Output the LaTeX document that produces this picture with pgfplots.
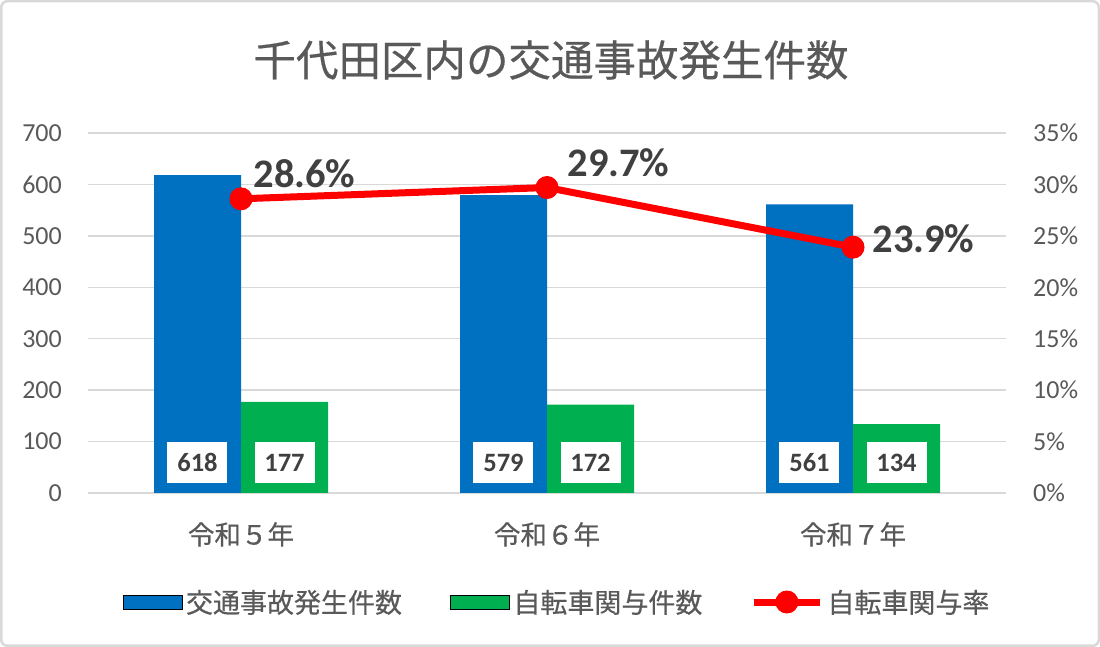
\documentclass[border=0pt]{standalone}
\usepackage{fontspec}
\setmainfont{Carlito}
\newfontfamily\jp{Noto Sans CJK JP}[FakeBold=0.5]
\usepackage{pgfplots}
\usepackage{pgfplotstable}
\pgfplotsset{compat=1.18}
\pgfkeys{/pgf/number format/assume math mode=true}

\definecolor{accblue}{HTML}{0070C0}
\definecolor{bikegreen}{HTML}{00B050}
\definecolor{ratered}{HTML}{FF0000}
\definecolor{gridgray}{HTML}{D9D9D9}
\definecolor{ticktext}{HTML}{595959}
\definecolor{labtext}{HTML}{404040}

% x: category, total: 交通事故発生件数, bike: 自転車関与件数, rate: 自転車関与率 (%)
% lx, ly: offsets of the rate labels (pt)
\pgfplotstableread{
x total bike rate lx ly
0 618  177  28.6 12 25
1 579  172  29.7 20 25
2 561  134  23.9 19 8
}\datatable

\pgfplotsset{
  barlegend/.style={legend image code/.code={\fill[##1] (0pt,-7pt) rectangle (59pt,7pt);}},
  linelegend/.style={legend image code/.code={%
    \draw[mark repeat=2,mark phase=2,##1] plot coordinates {(0pt,0pt) (33pt,0pt) (66pt,0pt)};}},
  base/.style={
    at={(88pt,154pt)}, anchor=south west,
    scale only axis, width=918pt, height=360pt,
    xmin=-0.5, xmax=2.5,
    tick style={draw=none},
    ticklabel style={text=ticktext, font=\fontsize{26}{30}\selectfont, inner sep=0pt},
  },
}

\begin{document}
\begin{tikzpicture}
  \useasboundingbox (0,0) rectangle (1100pt,647pt);
  \draw[gridgray, line width=2.5pt, rounded corners=6pt] (1.25pt,1.25pt) rectangle (1098.75pt,645.75pt);

  \node[text=ticktext, font=\jp\fontsize{42.5}{48}\selectfont] at (551pt,587pt) {千代田区内の交通事故発生件数};

  \begin{axis}[
    base,
    ymin=0, ymax=700, ytick={0,100,...,700},
    ymajorgrids, grid style={gridgray, line width=1.3pt},
    axis x line*=bottom, axis y line*=left,
    x axis line style={gridgray, line width=1.3pt, -},
    y axis line style={draw=none},
    xtick={0,1,2},
    xticklabels={令和５年,令和６年,令和７年},
    xticklabel style={font=\jp\fontsize{26.5}{30}\selectfont, anchor=north},
    xticklabel shift=29pt,
    yticklabel style={anchor=east},
    yticklabel shift=26pt,
  ]
    \addplot[ybar, bar width=87pt, bar shift=-43.5pt, fill=accblue, draw=none]
      table[x=x, y=total] {\datatable};
    \addplot[ybar, bar width=87pt, bar shift=43.5pt, fill=bikegreen, draw=none]
      table[x=x, y=bike] {\datatable};

    \addplot[draw=none, mark=none, nodes near coords, point meta=\thisrow{total},
      every node near coord/.style={fill=white, inner sep=0pt, minimum width=60pt,
        minimum height=41pt, anchor=center, yshift=30.5pt, text=labtext,
        font=\bfseries\fontsize{26.5}{30}\selectfont}]
      table[x expr=\thisrow{x}-0.1422, y expr=0] {\datatable};
    \addplot[draw=none, mark=none, nodes near coords, point meta=\thisrow{bike},
      every node near coord/.style={fill=white, inner sep=0pt, minimum width=60pt,
        minimum height=41pt, anchor=center, yshift=30.5pt, text=labtext,
        font=\bfseries\fontsize{26.5}{30}\selectfont}]
      table[x expr=\thisrow{x}+0.1422, y expr=0] {\datatable};
  \end{axis}

  \begin{axis}[
    base,
    ymin=0, ymax=35, ytick={0,5,...,35},
    axis x line=none, axis y line*=right,
    y axis line style={draw=none},
    yticklabel={\pgfmathprintnumber{\tick}\%},
    yticklabel style={anchor=west},
    yticklabel shift=27pt,
    clip=false,
    legend columns=3,
    legend style={at={(0.512,-0.3028)}, anchor=center, draw=none, fill=none,
      font=\jp\fontsize{27}{30}\selectfont, text=ticktext,
      nodes={inner xsep=4pt, inner ysep=0pt},
      /tikz/every even column/.append style={column sep=44pt}},
  ]
    \addlegendimage{barlegend, fill=accblue}
    \addlegendentry{交通事故発生件数}
    \addlegendimage{barlegend, fill=bikegreen}
    \addlegendentry{自転車関与件数}

    \addplot[ratered, line width=7pt, mark=*, mark size=11pt,
      mark options={line width=1pt, fill=ratered},
      linelegend,
      nodes near coords={\pgfmathprintnumber[fixed,fixed zerofill,precision=1]{\pgfplotspointmeta}\%},
      point meta=\thisrow{rate},
      visualization depends on={\thisrow{lx} \as \lx},
      visualization depends on={\thisrow{ly} \as \ly},
      every node near coord/.style={anchor=west, inner sep=0pt, text=labtext,
        font=\bfseries\fontsize{40.5}{46}\selectfont, xshift=\lx pt, yshift=\ly pt}]
      table[x=x, y=rate] {\datatable};
    \addlegendentry{自転車関与率}
  \end{axis}
\end{tikzpicture}
\end{document}
